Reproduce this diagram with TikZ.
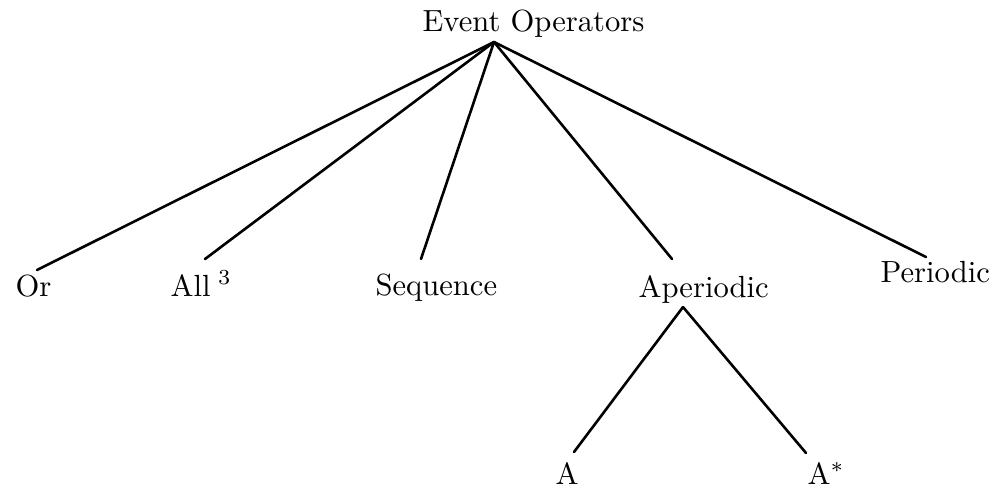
\documentclass[tikz,border=0pt]{standalone}
\begin{document}
\begin{tikzpicture}[x=0.5pt,y=-0.5pt,
  lbl/.style={font=\fontsize{10}{12}\selectfont, inner sep=0pt, anchor=base west, scale=1.53, transform shape},
  edge/.style={line width=1.3pt, line cap=round}]
\useasboundingbox (0,0) rectangle (994,488);
% labels
\node[lbl] (root) at (422,31) {Event Operators};
\node[lbl] (or) at (15,296) {Or};
\node[lbl] (all) at (170,296) {All\kern2.5pt$^{3}$};
\node[lbl] (seq) at (375,295) {Sequence};
\node[lbl] (aper) at (638,297) {Aperiodic};
\node[lbl] (per) at (880,282) {Periodic};
\node[lbl] (a) at (555,484) {A};
\node[lbl] (astar) at (807,484) {A$^*$};
% connector ends
\coordinate (root-foot) at (494,42);
\coordinate (or-top) at (37,270);
\coordinate (all-top) at (205,259);
\coordinate (seq-top) at (421,259);
\coordinate (aper-top) at (672,259);
\coordinate (per-top) at (926,257);
\coordinate (aper-foot) at (683,307);
\coordinate (a-top) at (574,452);
\coordinate (astar-top) at (806,453);
% connectors
\draw[edge] (root-foot) -- (or-top);
\draw[edge] (root-foot) -- (all-top);
\draw[edge] (root-foot) -- (seq-top);
\draw[edge] (root-foot) -- (aper-top);
\draw[edge] (root-foot) -- (per-top);
\draw[edge] (aper-foot) -- (a-top);
\draw[edge] (aper-foot) -- (astar-top);
\end{tikzpicture}
\end{document}
